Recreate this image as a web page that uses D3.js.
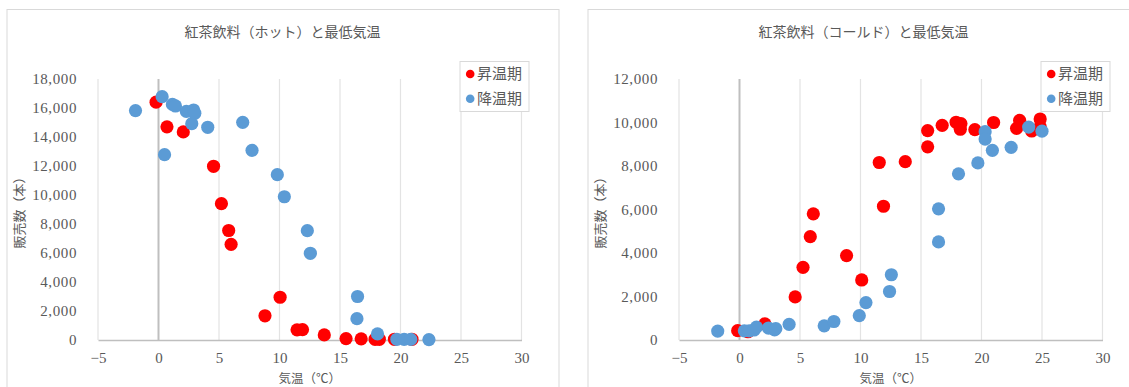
<!DOCTYPE html>
<html lang="ja">
<head>
<meta charset="utf-8">
<script src="https://cdn.jsdelivr.net/npm/d3@7/dist/d3.min.js"></script>
<style>
  html, body { margin: 0; padding: 0; background: #fff; }
  svg { display: block; }
</style>
</head>
<body>
<svg id="chart" width="1129" height="387"></svg>
<script>
// 紅茶飲料（ホット）: 昇温期 / 降温期 の最低気温(℃)と販売数(本)
const hotRiseTemp  = [-0.2, 0.7, 2.05, 4.55, 5.2, 5.8, 6.0, 8.8, 10.05, 11.45, 11.9, 13.7, 15.5, 16.75, 17.9, 18.25, 19.5, 20.95];
const hotRiseSales = [16400, 14700, 14350, 11980, 9400, 7550, 6600, 1670, 2950, 700, 720, 350, 100, 80, 50, 50, 50, 50];
const hotFallTemp  = [-1.9, 0.3, 1.15, 1.4, 2.3, 2.9, 3.0, 2.75, 0.5, 4.07, 6.96, 7.73, 9.82, 10.4, 12.3, 12.55, 16.45, 16.4, 18.1, 19.7, 20.3, 20.85, 22.35];
const hotFallSales = [15820, 16780, 16250, 16140, 15770, 15860, 15640, 14920, 12780, 14670, 15010, 13080, 11400, 9880, 7540, 5980, 3000, 1470, 420, 50, 40, 40, 30];

// 紅茶飲料（コールド）: 昇温期 / 降温期
const coldRiseTemp  = [-0.15, 0.7, 2.1, 4.6, 5.25, 5.85, 6.1, 8.85, 10.1, 11.55, 11.9, 13.7, 15.55, 15.55, 16.75, 17.9, 18.3, 18.25, 19.45, 21.0, 22.9, 23.15, 24.15, 24.85, 24.85];
const coldRiseSales = [430, 380, 740, 1980, 3340, 4750, 5800, 3880, 2760, 8160, 6150, 8200, 9630, 8880, 9870, 10010, 9950, 9690, 9670, 10000, 9730, 10100, 9610, 10160, 9810];
const coldFallTemp  = [-1.8, 0.4, 0.8, 1.2, 1.4, 2.4, 2.9, 3.0, 4.1, 7.0, 7.8, 9.9, 10.45, 12.4, 12.55, 16.45, 16.45, 18.1, 19.7, 20.3, 20.3, 20.9, 22.45, 23.9, 25.0];
const coldFallSales = [410, 420, 420, 460, 590, 550, 470, 520, 720, 650, 850, 1120, 1720, 2230, 3000, 6030, 4510, 7640, 8140, 9580, 9240, 8720, 8860, 9790, 9600];

const seriesNames = ["昇温期", "降温期"];
const seriesColors = ["#ff0000", "#5b9bd5"];

const xTicks = [-5, 0, 5, 10, 15, 20, 25, 30];
const hotYTicks = [0, 2000, 4000, 6000, 8000, 10000, 12000, 14000, 16000, 18000];
const coldYTicks = [0, 2000, 4000, 6000, 8000, 10000, 12000];

const titles = ["紅茶飲料（ホット）と最低気温", "紅茶飲料（コールド）と最低気温"];
const xTitle = "気温（℃）";
const yTitle = "販売数（本）";

const svg = d3.select("#chart");
const sansJP = "'Noto Sans CJK JP', 'Noto Sans', sans-serif";
const serifNum = "'Liberation Serif', 'DejaVu Serif', serif";
const textColor = "#595959";

function drawChart(ox, title, yTicks, rise, fall) {
  const g = svg.append("g");
  const W = 552;
  const plot = { left: ox + 91.5, right: ox + 515, top: 79, bottom: 340 };

  // chart area frame
  g.append("rect")
    .attr("x", ox + 0.5).attr("y", 9.5)
    .attr("width", W).attr("height", 400)
    .attr("fill", "#fff").attr("stroke", "#d9d9d9");

  const x = d3.scaleLinear().domain([xTicks[0], xTicks[xTicks.length - 1]]).range([plot.left, plot.right]);
  const y = d3.scaleLinear().domain([0, yTicks[yTicks.length - 1]]).range([plot.bottom, plot.top]);

  // title
  g.append("text")
    .attr("x", ox + W / 2).attr("y", 37)
    .attr("text-anchor", "middle")
    .style("font-family", sansJP).style("font-size", "14px")
    .attr("fill", textColor)
    .text(title);

  // vertical gridlines
  g.append("g").selectAll("line")
    .data(xTicks.filter(t => t !== 0))
    .join("line")
    .attr("x1", d => x(d)).attr("x2", d => x(d))
    .attr("y1", plot.top).attr("y2", plot.bottom)
    .attr("stroke", "#e3e3e3").attr("stroke-width", 1.2);

  // vertical axis line crossing at 0
  g.append("line")
    .attr("x1", x(0)).attr("x2", x(0))
    .attr("y1", plot.top).attr("y2", plot.bottom)
    .attr("stroke", "#bfbfbf").attr("stroke-width", 2);

  // horizontal axis
  const xAxis = d3.axisBottom(x).tickValues(xTicks).tickSize(0).tickPadding(12)
    .tickFormat(d3.format("d"));
  const xg = g.append("g").attr("transform", `translate(0,${plot.bottom})`).call(xAxis);
  xg.select(".domain").attr("stroke", "#bfbfbf").attr("stroke-width", 1.3);
  xg.selectAll("text")
    .style("font-family", serifNum).style("font-size", "15px")
    .attr("fill", textColor);

  // vertical axis labels
  const yAxis = d3.axisLeft(y).tickValues(yTicks).tickSize(0).tickPadding(21)
    .tickFormat(d3.format(","));
  const yg = g.append("g").attr("transform", `translate(${plot.left},0)`).call(yAxis);
  yg.select(".domain").remove();
  yg.selectAll("text")
    .style("font-family", serifNum).style("font-size", "15px")
    .style("letter-spacing", "0.6px")
    .attr("fill", textColor);

  // axis titles
  g.append("text")
    .attr("x", (plot.left + plot.right) / 2).attr("y", 383)
    .attr("text-anchor", "middle")
    .style("font-family", sansJP).style("font-size", "12.5px")
    .attr("fill", textColor)
    .text(xTitle);
  g.append("text")
    .attr("transform", `translate(${ox + 17.5},${(plot.top + plot.bottom) / 2}) rotate(-90)`)
    .attr("text-anchor", "middle")
    .style("font-family", sansJP).style("font-size", "13px")
    .attr("fill", textColor)
    .text(yTitle);

  // scatter points: rising period first, falling period on top
  [rise, fall].forEach((s, i) => {
    const pts = s.temp.map((t, k) => ({ t, v: s.sales[k] }));
    g.append("g").selectAll("circle")
      .data(pts)
      .join("circle")
      .attr("cx", d => x(d.t)).attr("cy", d => y(d.v))
      .attr("r", 6.6)
      .attr("fill", seriesColors[i]);
  });

  // legend
  const lg = g.append("g");
  lg.append("rect")
    .attr("x", ox + 453.5).attr("y", 61.5)
    .attr("width", 69).attr("height", 50)
    .attr("fill", "#fff").attr("stroke", "#d9d9d9");
  seriesNames.forEach((name, i) => {
    const cy = 74 + i * 24.7;
    lg.append("circle")
      .attr("cx", ox + 463.7).attr("cy", cy).attr("r", 4.3)
      .attr("fill", seriesColors[i]);
    lg.append("text")
      .attr("x", ox + 470.5).attr("y", cy)
      .attr("dy", "0.36em")
      .style("font-family", sansJP).style("font-size", "15px")
      .attr("fill", textColor)
      .text(name);
  });
}

drawChart(6.5, titles[0], hotYTicks,
  { temp: hotRiseTemp, sales: hotRiseSales },
  { temp: hotFallTemp, sales: hotFallSales });
drawChart(587.5, titles[1], coldYTicks,
  { temp: coldRiseTemp, sales: coldRiseSales },
  { temp: coldFallTemp, sales: coldFallSales });
</script>
</body>
</html>
